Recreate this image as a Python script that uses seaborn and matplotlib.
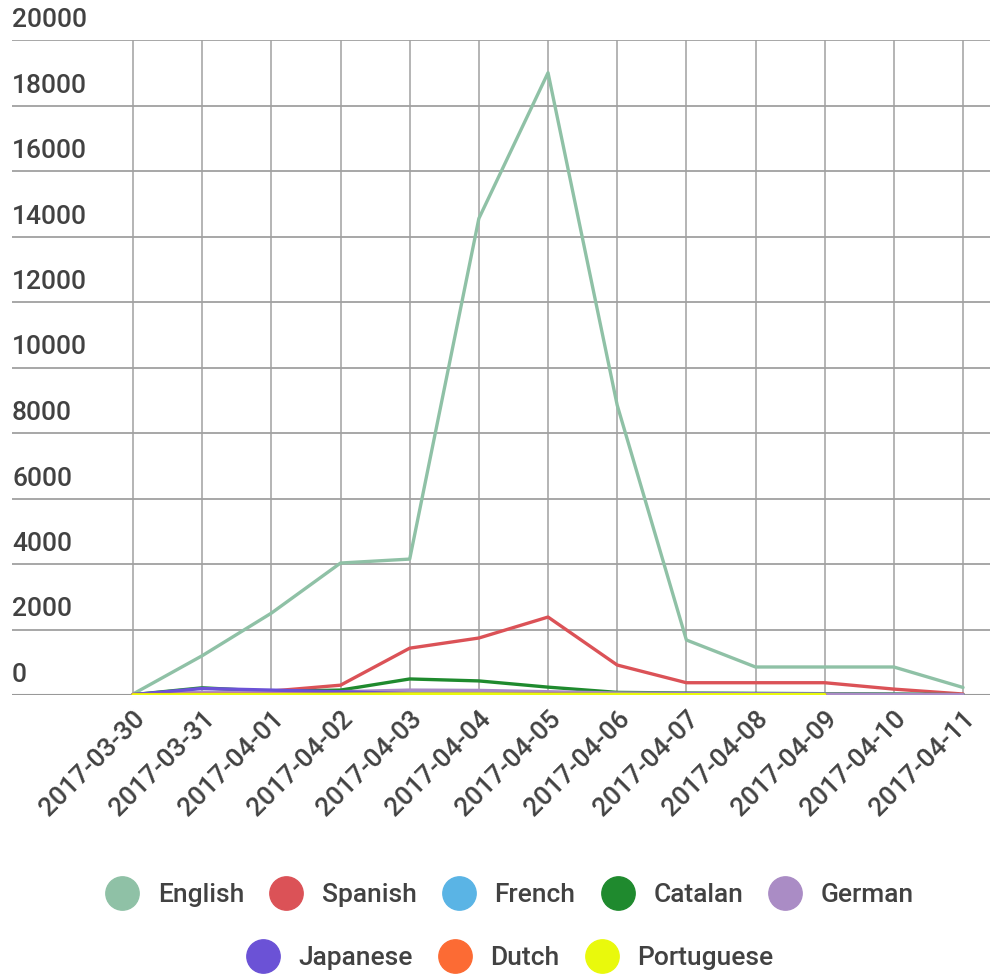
import numpy as np
import pandas as pd
import matplotlib
matplotlib.use("Agg")
import matplotlib.pyplot as plt
import matplotlib.transforms as mtransforms
from matplotlib.lines import Line2D
import seaborn as sns

fechas = ["2017-03-30", "2017-03-31", "2017-04-01", "2017-04-02", "2017-04-03",
          "2017-04-04", "2017-04-05", "2017-04-06", "2017-04-07", "2017-04-08",
          "2017-04-09", "2017-04-10", "2017-04-11"]

english = [30, 1200, 2500, 4030, 4150, 14550, 19000, 8850, 1680, 855, 855, 855, 230]
spanish = [20, 60, 120, 300, 1430, 1740, 2380, 915, 375, 375, 375, 180, 30]
french = [10, 40, 50, 60, 80, 90, 70, 50, 40, 40, 30, 20, 10]
catalan = [10, 220, 110, 150, 490, 430, 240, 80, 60, 50, 40, 30, 10]
german = [20, 80, 90, 100, 150, 140, 100, 60, 50, 40, 30, 20, 10]
japanese = [10, 200, 150, 100, 40, 30, 30, 20, 20, 20, 10, np.nan, np.nan]
dutch = [10, 20, 20, 20, 20, 20, 20, 10, 10, 10, 10, np.nan, np.nan]
portuguese = [5, 10, 10, 20, 30, 30, 20, 20, 10, 10, 10, np.nan, np.nan]

idiomas = ["English", "Spanish", "French", "Catalan", "German",
           "Japanese", "Dutch", "Portuguese"]
valores = [english, spanish, french, catalan, german, japanese, dutch, portuguese]
colores = ["#8fc1a6", "#db5257", "#5ab4e5", "#1f8a2e", "#aa8cc5",
           "#6b52d6", "#fc6b34", "#e9f90c"]
paleta = dict(zip(idiomas, colores))

y_ticks = [0, 2000, 4000, 6000, 8000, 10000, 12000, 14000, 16000, 18000, 20000]

filas = []
for idioma, vals in zip(idiomas, valores):
    for f, v in zip(fechas, vals):
        filas.append({"fecha": f, "tweets": v, "idioma": idioma})
df = pd.DataFrame(filas)

sns.set_style("white")
plt.rcParams["font.family"] = ["Roboto", "DejaVu Sans"]
color_texto = "#424242"

fig = plt.figure(figsize=(9.9, 9.75), dpi=100)
ax = fig.add_axes([12 / 990, 280 / 975, 978 / 990, 655 / 975])

sns.lineplot(data=df, x="fecha", y="tweets", hue="idioma", hue_order=idiomas,
             palette=paleta, linewidth=2.4, legend=False, ax=ax, zorder=3)

ax.set_xlim(-1.75, 12.39)
ax.set_ylim(0, 20000)
ax.set_xticks(range(len(fechas)))
ax.set_xticklabels(fechas, rotation=45, ha="right", rotation_mode="anchor",
                   fontsize=19, color=color_texto, fontweight="medium")
ax.tick_params(axis="x", length=0, pad=8)
ax.set_yticks(y_ticks)
ax.set_yticklabels([])
ax.tick_params(axis="y", length=0)
ax.grid(axis="x", color="#b4b4b4", linewidth=1.4)
ax.grid(axis="y", color="#a0a0a0", linewidth=1.3)
for s in ax.spines.values():
    s.set_visible(False)
ax.axhline(0, color="#999999", linewidth=1.5, zorder=2)
ax.set_xlabel("")
ax.set_ylabel("")

# etiquetas del eje y encima de cada linea
trans = mtransforms.blended_transform_factory(ax.transAxes, ax.transData)
trans = mtransforms.offset_copy(trans, fig=fig, x=0, y=8, units="dots")
for t in y_ticks:
    ax.text(0, t, str(t), transform=trans, ha="left", va="bottom",
            fontsize=19, color=color_texto, fontweight="medium")

def manejadores(nombres):
    return [Line2D([], [], linestyle="", marker="o", markersize=24,
                   markerfacecolor=paleta[n], markeredgecolor=paleta[n], label=n)
            for n in nombres]

props = {"size": 19, "weight": "medium"}
ley1 = fig.legend(handles=manejadores(idiomas[:5]), loc="center",
                  bbox_to_anchor=(505 / 990, 1 - 895 / 975), ncol=5, frameon=False,
                  prop=props, handletextpad=0.35, columnspacing=0.6,
                  labelcolor=color_texto)
ley2 = fig.legend(handles=manejadores(idiomas[5:]), loc="center",
                  bbox_to_anchor=(505 / 990, 1 - 958 / 975), ncol=3, frameon=False,
                  prop=props, handletextpad=0.35, columnspacing=0.6,
                  labelcolor=color_texto)

fig.savefig("out.png", dpi=100)
